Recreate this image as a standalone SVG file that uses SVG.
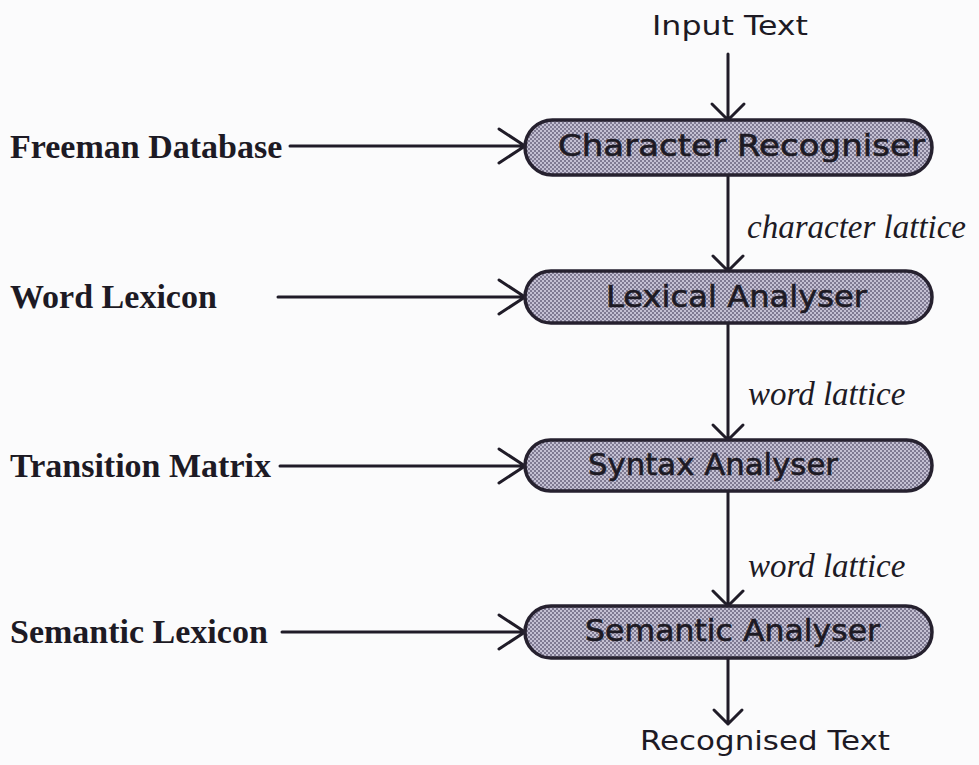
<svg xmlns="http://www.w3.org/2000/svg" width="979" height="765" viewBox="0 0 979 765">
<defs>
<pattern id="dots" width="4" height="4" patternUnits="userSpaceOnUse">
<rect width="4" height="4" fill="#c4c0d3"/>
<rect x="0" y="0" width="2" height="2" fill="#7f7a92"/>
<rect x="2" y="2" width="2" height="2" fill="#7f7a92"/>
</pattern>
<style>
.pill{fill:url(#dots);stroke:#26212f;stroke-width:3.5}
.nt{font-family:"DejaVu Sans","Liberation Sans",sans-serif;font-size:31px;fill:#1d1a24;stroke:#1d1a24;stroke-width:0.6}
.src{font-family:"Liberation Serif","Times New Roman",serif;font-weight:bold;font-size:34px;fill:#1d1a24}
.el{font-family:"Liberation Serif","Times New Roman",serif;font-style:italic;font-size:33px;fill:#1d1a24}
.io{font-family:"DejaVu Sans","Liberation Sans",sans-serif;font-size:26px;fill:#1d1a24}
.c{fill:none;stroke:#201c28;stroke-width:3;stroke-linecap:round;stroke-linejoin:round}
</style>
</defs>
<rect width="979" height="765" fill="#fbfbfc"/>

<g id="connectors">
<path class="c" d="M728 54 V120 M712 104 L728 120 L744 104"/>
<path class="c" d="M728 175 V271 M713 256 L728 271 L743 256"/>
<path class="c" d="M728 323 V440 M713 425 L728 440 L743 425"/>
<path class="c" d="M728 491 V606 M713 591 L728 606 L743 591"/>
<path class="c" d="M728 658 V724 M714 710 L728 724 L742 710"/>
<path class="c" d="M290 146 H525 M499 129 L525 146 L499 163"/>
<path class="c" d="M278 297 H525 M499 280 L525 297 L499 314"/>
<path class="c" d="M280 466 H525 M499 449 L525 466 L499 483"/>
<path class="c" d="M282 632 H525 M499 615 L525 632 L499 649"/>
</g>

<g id="input-text"><text class="io" x="652" y="35" textLength="156" lengthAdjust="spacingAndGlyphs">Input Text</text></g>
<g id="recognised-text"><text class="io" x="640" y="750" textLength="250" lengthAdjust="spacingAndGlyphs">Recognised Text</text></g>

<g id="freeman-database"><text class="src" x="10" y="158">Freeman Database</text></g>
<g id="word-lexicon"><text class="src" x="10" y="308">Word Lexicon</text></g>
<g id="transition-matrix"><text class="src" x="10" y="477">Transition Matrix</text></g>
<g id="semantic-lexicon"><text class="src" x="10" y="643">Semantic Lexicon</text></g>

<g id="character-recogniser">
<rect class="pill" x="525" y="120" width="407" height="55" rx="27.5"/>
<text class="nt" x="558" y="156" textLength="367" lengthAdjust="spacingAndGlyphs">Character Recogniser</text>
</g>
<g id="lexical-analyser">
<rect class="pill" x="525" y="271" width="407" height="52" rx="26"/>
<text class="nt" x="606" y="307" textLength="261" lengthAdjust="spacingAndGlyphs">Lexical Analyser</text>
</g>
<g id="syntax-analyser">
<rect class="pill" x="525" y="440" width="407" height="51" rx="25.5"/>
<text class="nt" x="588" y="475" textLength="250" lengthAdjust="spacingAndGlyphs">Syntax Analyser</text>
</g>
<g id="semantic-analyser">
<rect class="pill" x="525" y="606" width="407" height="52" rx="26"/>
<text class="nt" x="585" y="641" textLength="295" lengthAdjust="spacingAndGlyphs">Semantic Analyser</text>
</g>

<g id="edge-labels">
<text class="el" x="747" y="238">character lattice</text>
<text class="el" x="748" y="405">word lattice</text>
<text class="el" x="748" y="577">word lattice</text>
</g>
</svg>
